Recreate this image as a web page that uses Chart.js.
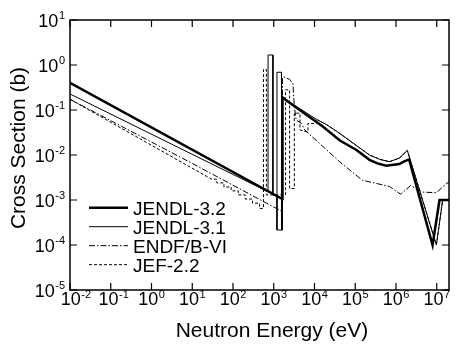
<!DOCTYPE html>
<html>
<head>
<meta charset="utf-8">
<script src="https://cdn.jsdelivr.net/npm/chart.js@4.4.1/dist/chart.umd.min.js"></script>
<style>
  html, body { margin: 0; padding: 0; background: #fff; }
  canvas { display: block; }
</style>
</head>
<body>
<canvas id="myChart" width="458" height="347"></canvas>
<script>
// decade tick exponents, labels are drawn as 10^n
var xPowers = [-2, -1, 0, 1, 2, 3, 4, 5, 6, 7];
var yPowers = [-5, -4, -3, -2, -1, 0, 1];

var seriesNames = ['JENDL-3.2', 'JENDL-3.1', 'ENDF/B-VI', 'JEF-2.2'];

// JENDL-3.2 : energy (eV) / cross section (b)
var jendl32E = [0.01, 1630, 1640, 2450, 1.6e4, 4.2e4, 1.07e5, 2.24e5, 3.5e5, 5.75e5, 1.2e6, 1.6e6, 2.1e6, 7.9e6, 1.17e7, 2e7];
var jendl32S = [0.40, 1.05e-3, 0.19, 0.145, 0.043, 0.021, 0.0129, 7.8e-3, 6.5e-3, 5.75e-3, 6.3e-3, 7.2e-3, 8.0e-3, 1.0e-4, 1.0e-3, 1.0e-3];

// JENDL-3.1 (null = pen up, last 3 points close the notch at ~1.2 keV)
var jendl31E = [0.01, 700, 725, 725, 955, 955, 1200, 1200, 1550, 1550, 1640, 1640, 2450, 1.12e4, 2e4, 4.2e4, 1.07e5, 2.24e5, 4e5, 6.9e5, 1.2e6, 1.9e6, 9.8e6, 1.4e7, 2e7, 2e7, 1200, 1200, 1550];
var jendl31S = [0.227, 1.55e-3, 1.5e-3, 1.67, 1.67, 1.3e-3, 1.2e-3, 0.69, 0.69, 2.15e-4, 2.15e-4, 0.2, 0.15, 0.062, 0.047, 0.030, 0.0162, 0.010, 8.0e-3, 7.1e-3, 8.5e-3, 0.0126, 1.0e-4, 1.0e-3, 1.0e-3, null, 1.2e-3, 2.15e-4, 2.15e-4];

// ENDF/B-VI
var endfE = [0.01, 10, 1640, 1640, 1700, 2450, 2950, 3200, 3550, 4800, 5750, 4.2e4, 1.5e5, 6.9e5, 1.3e6, 2.3e6, 4.5e6, 9.8e6, 1.7e7, 2e7];
var endfS = [0.173, 6.5e-3, 5.5e-4, 0.5, 0.55, 0.48, 0.39, 0.12, 0.06, 0.05, 0.036, 7e-3, 2.75e-3, 2.0e-3, 1.35e-3, 2.1e-3, 1.5e-3, 1.45e-3, 2.3e-3, 2.5e-3];

// JEF-2.2 (group-wise steps below 1 keV)
var jefE = [0.01, 30, 40, 40, 60, 60, 90, 90, 135, 135, 200, 200, 300, 300, 450, 450, 560, 560, 660, 660, 1950, 1950, 2450, 2450, 3200, 3200, 4400, 4400, 6300, 6900, 6900, 1.12e4, 1.12e4, 2e4, 4.2e4, 1.07e5, 2.24e5, 4e5, 6.9e5, 1.2e6, 1.9e6, 9.8e6, 1.4e7, 2e7];
var jefS = [0.173, 2.9e-3, 2.9e-3, 2.4e-3, 2.4e-3, 1.95e-3, 1.95e-3, 1.6e-3, 1.6e-3, 1.3e-3, 1.3e-3, 1.05e-3, 1.05e-3, 8.5e-4, 8.5e-4, 6.5e-4, 6.5e-4, 0.8, 0.8, 1.3e-3, 1.3e-3, 0.28, 0.28, 1.8e-3, 1.8e-3, 0.085, 0.085, 0.036, 0.033, 0.033, 0.05, 0.05, 0.062, 0.047, 0.030, 0.0162, 0.010, 8.0e-3, 7.1e-3, 8.5e-3, 0.0126, 1.0e-4, 1.0e-3, 1.0e-3];

var FONT = '"Liberation Sans", Arial, Helvetica, sans-serif';
var lineWidths = [2.5, 1, 1, 1];
var lineDashes = [[], [], [6, 2, 1.5, 2], [3, 2]];

function points(E, S) {
    return E.map(function(e, i) { return {x: e, y: S[i]}; });
}

var allData = [points(jendl32E, jendl32S), points(jendl31E, jendl31S), points(endfE, endfS), points(jefE, jefS)];

// draw "10" with a raised exponent
function drawPow(ctx, exp, x, baseY, align) {
    ctx.font = '18px ' + FONT;
    var wBase = ctx.measureText('10').width;
    ctx.font = '11px ' + FONT;
    var wExp = ctx.measureText(String(exp)).width;
    var total = wBase + wExp + 0.5;
    var left = align === 'right' ? x - total : x - total / 2;
    ctx.textAlign = 'left';
    ctx.textBaseline = 'alphabetic';
    ctx.font = '18px ' + FONT;
    ctx.fillText('10', left, baseY);
    ctx.font = '11px ' + FONT;
    ctx.fillText(String(exp), left + wBase + 0.5, baseY - 7.5);
}

// frame, inward ticks, tick labels, titles and legend
var framePlugin = {
    id: 'frame',
    afterDraw: function(chart) {
        var ctx = chart.ctx, a = chart.chartArea;
        var xs = chart.scales.x, ys = chart.scales.y;
        ctx.save();
        ctx.strokeStyle = '#000';
        ctx.fillStyle = '#000';
        ctx.lineWidth = 1.5;
        ctx.strokeRect(a.left, a.top, a.right - a.left, a.bottom - a.top);

        ctx.lineWidth = 1.2;
        ctx.beginPath();
        xPowers.forEach(function(p) {
            var px = xs.getPixelForValue(Math.pow(10, p));
            ctx.moveTo(px, a.bottom); ctx.lineTo(px, a.bottom - 7);
            ctx.moveTo(px, a.top); ctx.lineTo(px, a.top + 7);
        });
        yPowers.forEach(function(p) {
            var py = ys.getPixelForValue(Math.pow(10, p));
            ctx.moveTo(a.left, py); ctx.lineTo(a.left + 7, py);
            ctx.moveTo(a.right, py); ctx.lineTo(a.right - 7, py);
        });
        ctx.stroke();

        // first two labels sit a bit right of their ticks, like the original
        xPowers.forEach(function(p, i) {
            var px = xs.getPixelForValue(Math.pow(10, p));
            var shift = i === 0 ? 6 : (i === 1 ? 3 : 0);
            drawPow(ctx, p, px + shift, a.bottom + 15, 'center');
        });
        yPowers.forEach(function(p) {
            var py = ys.getPixelForValue(Math.pow(10, p));
            drawPow(ctx, p, a.left - 5, py + 6.5, 'right');
        });

        // axis titles
        ctx.font = '21px ' + FONT;
        ctx.textAlign = 'center';
        ctx.textBaseline = 'alphabetic';
        ctx.fillText('Neutron Energy (eV)', 272, 337);
        ctx.save();
        ctx.translate(25, 148);
        ctx.rotate(-Math.PI / 2);
        ctx.fillText('Cross Section (b)', 0, 0);
        ctx.restore();

        // legend
        ctx.font = '19px ' + FONT;
        ctx.textAlign = 'left';
        seriesNames.forEach(function(name, i) {
            var base = 214.5 + i * 19;
            ctx.lineWidth = lineWidths[i];
            ctx.setLineDash(lineDashes[i]);
            ctx.beginPath();
            ctx.moveTo(89, base - 6.8);
            ctx.lineTo(128, base - 6.8);
            ctx.stroke();
            ctx.setLineDash([]);
            ctx.fillText(name, 133, base);
        });
        ctx.restore();
    }
};

var ctx = document.getElementById('myChart').getContext('2d');
var myChart = new Chart(ctx, {
    type: 'line',
    data: {
        datasets: seriesNames.map(function(name, i) {
            return {
                label: name,
                data: allData[i],
                borderColor: '#000',
                backgroundColor: '#000',
                borderWidth: lineWidths[i],
                borderDash: lineDashes[i],
                pointRadius: 0,
                tension: 0,
                fill: false,
                spanGaps: false
            };
        })
    },
    options: {
        responsive: false,
        animation: false,
        layout: { padding: { top: 20, right: 9, left: 0, bottom: 0 } },
        scales: {
            x: {
                type: 'logarithmic',
                min: 0.01,
                max: 2e7,
                ticks: { display: false },
                grid: { display: false },
                border: { display: false },
                afterFit: function(s) { s.height = 57; }
            },
            y: {
                type: 'logarithmic',
                min: 1e-5,
                max: 10,
                ticks: { display: false },
                grid: { display: false },
                border: { display: false },
                afterFit: function(s) { s.width = 70; }
            }
        },
        plugins: {
            legend: { display: false },
            tooltip: { enabled: false }
        }
    },
    plugins: [framePlugin]
});
</script>
</body>
</html>
